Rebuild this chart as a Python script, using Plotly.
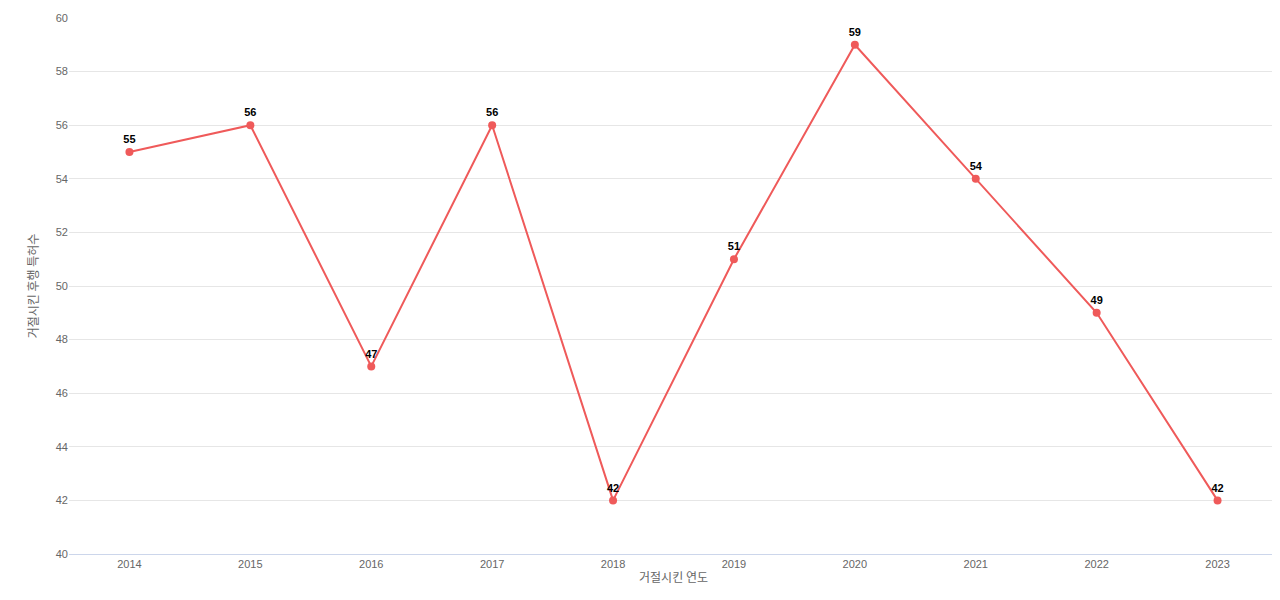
import plotly.graph_objects as go

years = ["2014","2015","2016","2017","2018","2019","2020","2021","2022","2023"]
counts = [55,56,47,56,42,51,59,54,49,42]

fig = go.Figure(go.Scatter(
    x=years, y=counts, mode="lines+markers+text",
    line=dict(color="#EF5A5A", width=2),
    marker=dict(color="#EF5A5A", size=8),
    text=[str(v) for v in counts], textposition="top center",
    textfont=dict(color="black", size=11, family="Liberation Sans"),
    texttemplate="<b>%{text}</b>", cliponaxis=False,
))
fig.update_layout(
    width=1280, height=600, autosize=False, plot_bgcolor="white", paper_bgcolor="white",
    margin=dict(l=61, r=10, t=10, b=54, autoexpand=False),
    font=dict(family="Liberation Sans, Noto Sans CJK KR", color="#666", size=11),
    showlegend=False,
)
fig.update_xaxes(type="category", automargin=False,
                 title=dict(text="거절시킨 연도", standoff=4, font=dict(size=12, family="Noto Sans CJK KR")),
                 showgrid=False, showline=True, linecolor="#ccd6eb", ticks="", range=[-0.5, 9.5])
fig.update_yaxes(range=[40,60], dtick=2, gridcolor="#e6e6e6", zeroline=False, automargin=False,
                 title=dict(text="거절시킨 후행 특허수", standoff=14, font=dict(size=12, family="Noto Sans CJK KR")))
fig.write_html("out.html")
